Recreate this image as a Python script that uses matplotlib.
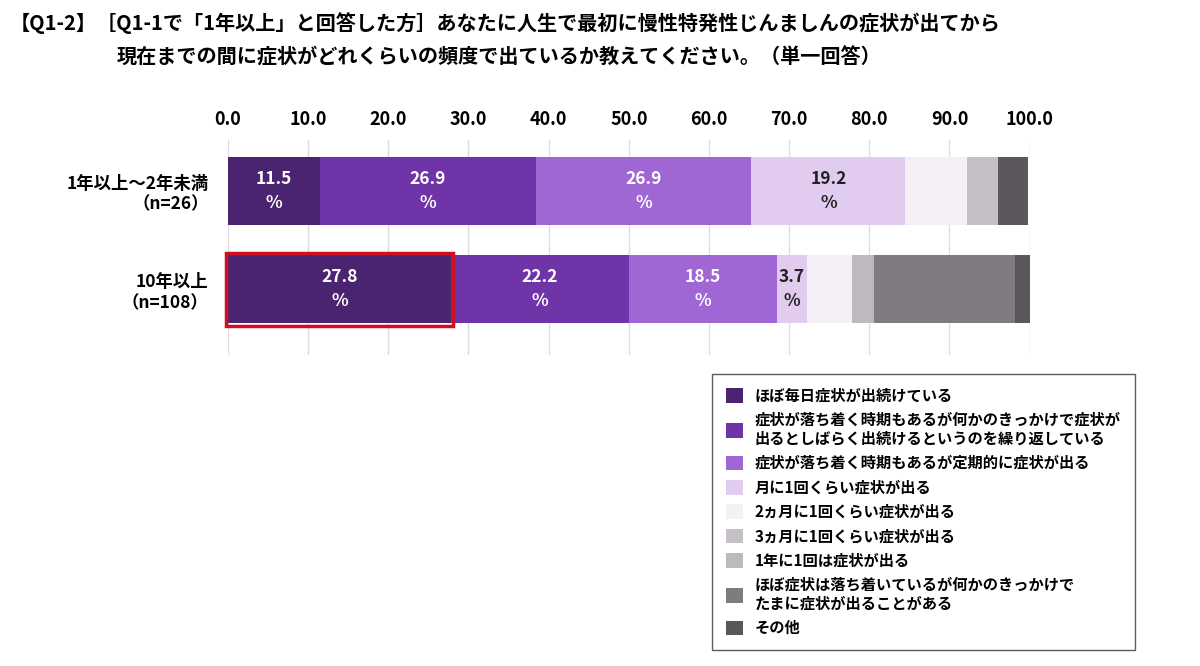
import matplotlib
matplotlib.use("Agg")
import matplotlib.pyplot as plt
from matplotlib.patches import Rectangle

plt.rcParams['font.family'] = 'Noto Sans CJK JP'

rows = ["1年以上～2年未満\n（n=26）", "10年以上\n（n=108）"]
series = ["ほぼ毎日症状が出続けている",
          "症状が落ち着く時期もあるが何かのきっかけで症状が\n出るとしばらく出続けるというのを繰り返している",
          "症状が落ち着く時期もあるが定期的に症状が出る",
          "月に1回くらい症状が出る",
          "2ヵ月に1回くらい症状が出る",
          "3ヵ月に1回くらい症状が出る",
          "1年に1回は症状が出る",
          "ほぼ症状は落ち着いているが何かのきっかけで\nたまに症状が出ることがある",
          "その他"]
values = [[11.5, 27.8], [26.9, 22.2], [26.9, 18.5], [19.2, 3.7],
          [7.7, 5.6], [3.8, 0.0], [0.0, 2.8], [0.0, 17.6], [3.8, 1.9]]
colors = ["#4a2470", "#6e34a8", "#a066d3", "#e1cbef", "#f4f0f5",
          "#c4c0c6", "#bdb9bf", "#7f7b80", "#5b575c"]
labeled = [0, 1, 2, 3]
ticks = [0, 10, 20, 30, 40, 50, 60, 70, 80, 90, 100]

fig = plt.figure(figsize=(12, 6.66), dpi=100)
ax = fig.add_axes([0.19, 0.467, 0.668, 0.323])
ypos = [0, 1]
left = [0.0, 0.0]
for i, (s, vals, c) in enumerate(zip(series, values, colors)):
    ax.barh(ypos, vals, left=left, color=c, height=0.69, label=s, zorder=2)
    if i in labeled:
        for j, v in enumerate(vals):
            if v > 0:
                tc = 'white' if i < 3 else '#222222'
                ax.text(left[j] + v / 2, ypos[j], f"{v:.1f}\n%", ha='center', va='center',
                        fontsize=12.5, fontweight='bold', color=tc, zorder=3, linespacing=1.4)
    left = [l + v for l, v in zip(left, vals)]

ax.set_xlim(0, 100)
ax.set_ylim(1.67, -0.52)
ax.set_xticks(ticks)
ax.set_xticklabels([f"{t:.1f}" for t in ticks], fontsize=13, fontweight='bold')
ax.xaxis.tick_top()
ax.tick_params(axis='x', length=0, pad=8)
ax.set_yticks(ypos)
ax.set_yticklabels(rows, fontsize=12.5, fontweight='bold')
ax.tick_params(axis='y', length=0, pad=14)
for sp in ax.spines.values():
    sp.set_visible(False)
ax.grid(axis='x', color='#e0dbe3', lw=1, zorder=0)
ax.add_patch(Rectangle((-0.3, 0.63), 28.4, 0.74, fill=False, ec='#d0101e', lw=2.5, zorder=4, clip_on=False))

fig.text(0.008, 0.965, "【Q1-2】［Q1-1で「1年以上」と回答した方］あなたに人生で最初に慢性特発性じんましんの症状が出てから",
         fontsize=14.5, fontweight='bold', va='center')
fig.text(0.097, 0.915, "現在までの間に症状がどれくらいの頻度で出ているか教えてください。（単一回答）",
         fontsize=14.5, fontweight='bold', va='center')

h, l = ax.get_legend_handles_labels()
leg = fig.legend(h, l, loc='upper left', bbox_to_anchor=(0.587, 0.45), frameon=True,
                 fancybox=False, edgecolor='#333333', handlelength=1.1, handleheight=1.1,
                 labelspacing=0.55, borderpad=0.9, prop={'weight': 'bold', 'size': 11})
leg.get_frame().set_linewidth(1)
fig.savefig("out.png")
